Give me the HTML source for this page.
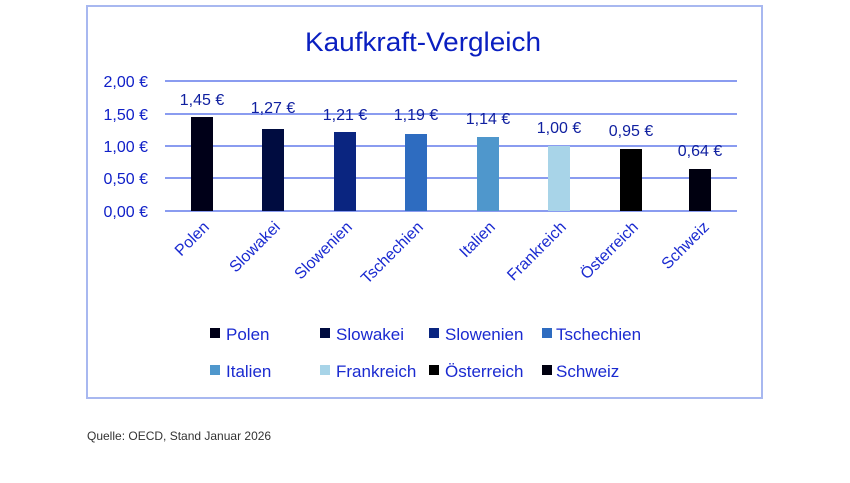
<!DOCTYPE html>
<html><head><meta charset="utf-8"><style>
body{margin:0;background:#fff;width:850px;height:478px;overflow:hidden;font-family:"Liberation Sans",sans-serif}
</style></head><body>
<svg width="850" height="478" xmlns="http://www.w3.org/2000/svg" font-family="Liberation Sans, sans-serif">
<rect x="87" y="6" width="675" height="392" fill="#fff" stroke="#a8b8f0" stroke-width="2"/>
<text x="423" y="51" text-anchor="middle" font-size="27" fill="#0a1fc0" textLength="236" lengthAdjust="spacingAndGlyphs">Kaufkraft-Vergleich</text>
<g stroke="#8a9cf0" stroke-width="2">
<line x1="165" y1="81" x2="737" y2="81"/><line x1="165" y1="114" x2="737" y2="114"/><line x1="165" y1="146" x2="737" y2="146"/><line x1="165" y1="178" x2="737" y2="178"/><line x1="165" y1="211" x2="737" y2="211"/>
</g>
<g font-size="16" fill="#1020c8" text-anchor="end">
<text x="148" y="87">2,00 €</text><text x="148" y="120">1,50 €</text><text x="148" y="152">1,00 €</text><text x="148" y="184">0,50 €</text><text x="148" y="217">0,00 €</text>
</g>
<g>
<rect x="191" y="117" width="22" height="94" fill="#000018"/>
<rect x="262" y="129" width="22" height="82" fill="#000c40"/>
<rect x="334" y="132" width="22" height="79" fill="#0a2580"/>
<rect x="405" y="134" width="22" height="77" fill="#2e6cc0"/>
<rect x="477" y="137" width="22" height="74" fill="#4f97cc"/>
<rect x="548" y="146" width="22" height="65" fill="#a8d4e8"/>
<rect x="620" y="149" width="22" height="62" fill="#000000"/>
<rect x="689" y="169" width="22" height="42" fill="#000010"/>
</g>
<g font-size="16" fill="#1020a0" text-anchor="middle">
<text x="202" y="105">1,45 €</text><text x="273" y="113">1,27 €</text><text x="345" y="120">1,21 €</text><text x="416" y="120">1,19 €</text><text x="488" y="124">1,14 €</text><text x="559" y="133">1,00 €</text><text x="631" y="136">0,95 €</text><text x="700" y="156">0,64 €</text>
</g>
<g font-size="16" fill="#1a2ad0" text-anchor="end">
<text transform="translate(210,228) rotate(-45)">Polen</text>
<text transform="translate(281,228) rotate(-45)">Slowakei</text>
<text transform="translate(353,228) rotate(-45)">Slowenien</text>
<text transform="translate(424,228) rotate(-45)">Tschechien</text>
<text transform="translate(496,228) rotate(-45)">Italien</text>
<text transform="translate(567,228) rotate(-45)">Frankreich</text>
<text transform="translate(639,228) rotate(-45)">Österreich</text>
<text transform="translate(710,228) rotate(-45)">Schweiz</text>
</g>
<g font-size="17" fill="#1a2ad0">
<rect x="210" y="328" width="10" height="10" fill="#000018"/><text x="226" y="340">Polen</text>
<rect x="320" y="328" width="10" height="10" fill="#000c40"/><text x="336" y="340">Slowakei</text>
<rect x="429" y="328" width="10" height="10" fill="#0a2580"/><text x="445" y="340">Slowenien</text>
<rect x="542" y="328" width="10" height="10" fill="#2e6cc0"/><text x="556" y="340">Tschechien</text>
<rect x="210" y="365" width="10" height="10" fill="#4f97cc"/><text x="226" y="377">Italien</text>
<rect x="320" y="365" width="10" height="10" fill="#a8d4e8"/><text x="336" y="377">Frankreich</text>
<rect x="429" y="365" width="10" height="10" fill="#000"/><text x="445" y="377">Österreich</text>
<rect x="542" y="365" width="10" height="10" fill="#000010"/><text x="556" y="377">Schweiz</text>
</g>
<text x="87" y="440" font-size="12" fill="#333">Quelle: OECD, Stand Januar 2026</text>
</svg>
</body></html>
